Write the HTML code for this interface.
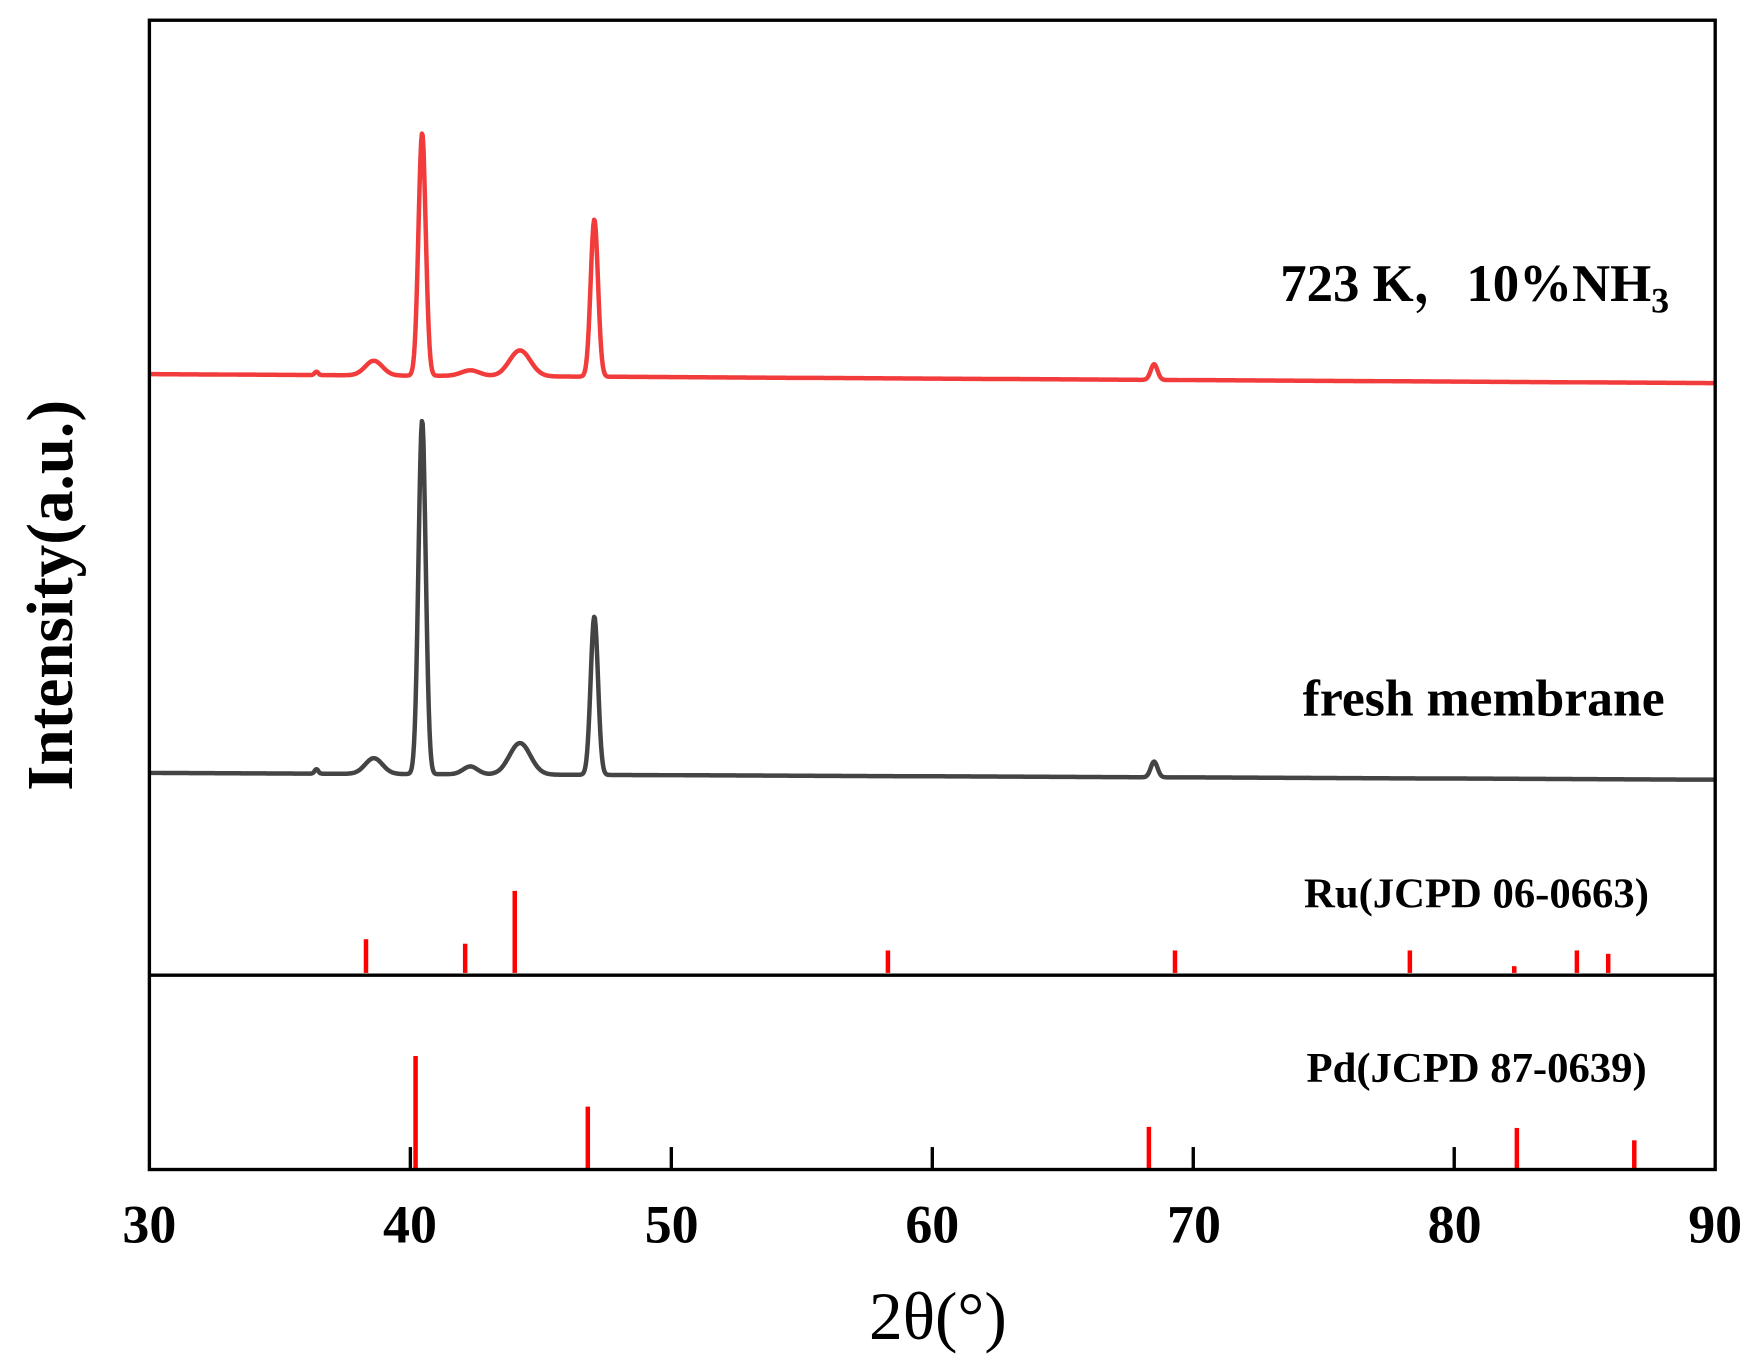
<!DOCTYPE html>
<html><head><meta charset="utf-8"><style>
html,body{margin:0;padding:0;background:#fff;}
svg{display:block;}
text{font-family:"Liberation Serif","Noto Serif CJK SC",serif;}
</style></head><body>
<svg id="s" width="1759" height="1365" viewBox="0 0 1566 1215" preserveAspectRatio="none" xmlns="http://www.w3.org/2000/svg">
<rect x="0" y="0" width="1566" height="1215" fill="#fff"/>
<path id="red" fill="none" stroke="#f23c3c" stroke-width="4" stroke-linejoin="round"/>
<path id="blk" fill="none" stroke="#444" stroke-width="4" stroke-linejoin="round"/>
<g id="sticks" stroke="#f00" stroke-width="4"></g>
<g id="ticks" stroke="#000" stroke-width="3"></g>
<rect x="133" y="18" width="1394" height="1023" fill="none" stroke="#000" stroke-width="3"/>
<line x1="133" y1="868" x2="1527" y2="868" stroke="#000" stroke-width="3"/>
<g font-weight="bold" font-size="48" text-anchor="middle">
<text x="133" y="1106">30</text><text x="365" y="1106">40</text><text x="598" y="1106">50</text>
<text x="830" y="1106">60</text><text x="1063" y="1106">70</text><text x="1295" y="1106">80</text><text x="1527" y="1106">90</text>
</g>
<text x="835" y="1192" font-size="60" text-anchor="middle">2θ(°)</text>
<text transform="translate(64,530) rotate(-90)" font-size="58" font-weight="bold" text-anchor="middle">Intensity(a.u.)</text>
<text x="1470" y="268" font-size="47" font-weight="bold" text-anchor="end">723 K，10%NH</text>
<text x="1470" y="278" font-size="32" font-weight="bold">3</text>
<text x="1482" y="637" font-size="46" font-weight="bold" text-anchor="end">fresh membrane</text>
<text x="1468" y="808" font-size="38" font-weight="bold" text-anchor="end">Ru(JCPD 06-0663)</text>
<text x="1466" y="963" font-size="38" font-weight="bold" text-anchor="end">Pd(JCPD 87-0639)</text>
</svg>
<script>
function X(t){return 133+(t-30)*1394/60;}
function curve(b0,b1,peaks){
  var d="";
  for(var t=30;t<=90.001;t+=0.03){
    var y=b0+(b1-b0)*(t-30)/60;
    for(var i=0;i<peaks.length;i++){var p=peaks[i];var z=(t-p[0])/p[2];y-=p[1]*Math.exp(-z*z/2);}
    d+=(d?"L":"M")+X(t).toFixed(1)+" "+y.toFixed(1);
  }
  return d;
}
document.getElementById("red").setAttribute("d",curve(333,341,[[36.4,3,0.07],[38.6,13,0.33],[40.45,216,0.14],[42.3,5,0.35],[44.2,23,0.4],[47.05,140,0.14],[68.5,14,0.13]]));
document.getElementById("blk").setAttribute("d",curve(688,694,[[36.4,4,0.07],[38.6,14,0.33],[40.45,315,0.14],[42.3,7,0.28],[44.2,28,0.4],[47.05,141,0.14],[68.5,14,0.13]]));
var st=[[38.3,866,836],[42.1,866,840],[44.0,866,793],[58.3,866,846],[69.3,866,846],[78.3,866,846],[82.3,866,860],[84.7,866,846],[85.9,866,849],
[40.2,1041,940],[46.8,1041,985],[68.3,1041,1003],[82.4,1041,1004],[86.9,1041,1015]];
var g=document.getElementById("sticks"),ns="http://www.w3.org/2000/svg";
st.forEach(function(s){var l=document.createElementNS(ns,"line");l.setAttribute("x1",X(s[0]));l.setAttribute("x2",X(s[0]));l.setAttribute("y1",s[1]);l.setAttribute("y2",s[2]);g.appendChild(l);});
var tk=document.getElementById("ticks");
[40,50,60,70,80].forEach(function(t){var l=document.createElementNS(ns,"line");l.setAttribute("x1",X(t));l.setAttribute("x2",X(t));l.setAttribute("y1",1041);l.setAttribute("y2",1021);tk.appendChild(l);});
</script>
</body></html>
